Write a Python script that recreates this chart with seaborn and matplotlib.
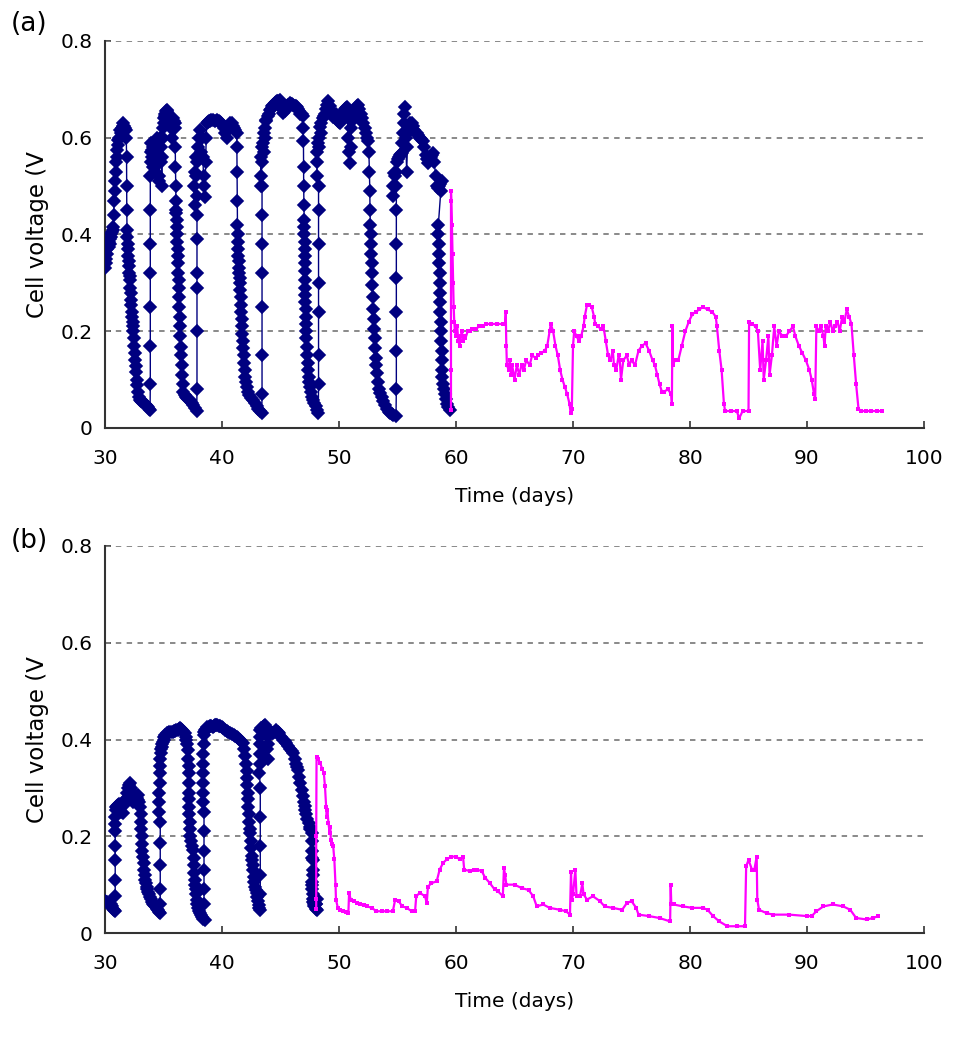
import matplotlib
matplotlib.use("Agg")
import matplotlib.pyplot as plt
import seaborn as sns
import pandas as pd

# ---------------- data ----------------
x_ticks = [30, 40, 50, 60, 70, 80, 90, 100]
y_ticks = [0, 0.2, 0.4, 0.6, 0.8]
y_tick_labels = ["0", "0.2", "0.4", "0.6", "0.8"]
panel_labels = ["(a)", "(b)"]
x_label = "Time (days)"
y_label = "Cell voltage (V"

# ---- panel (a), navy series: (day, voltage) ----
A_CYCLE1 = [(30.0, 0.33), (30.03, 0.37), (30.06, 0.35), (30.1, 0.34), (30.15, 0.36), (30.2, 0.37), (30.25, 0.38), (30.3, 0.375),
            (30.35, 0.385), (30.4, 0.39), (30.45, 0.38), (30.5, 0.395), (30.55, 0.40), (30.6, 0.405), (30.65, 0.41), (30.7, 0.416),
            (30.74, 0.44), (30.78, 0.47), (30.82, 0.49), (30.86, 0.51), (30.9, 0.53), (30.95, 0.55), (31.0, 0.575), (31.05, 0.56),
            (31.1, 0.585), (31.15, 0.595), (31.2, 0.60), (31.28, 0.616), (31.35, 0.61), (31.42, 0.62), (31.5, 0.625), (31.57, 0.63),
            (31.63, 0.625), (31.7, 0.62), (31.77, 0.615), (31.82, 0.60),
            (31.84, 0.56), (31.85, 0.50), (31.86, 0.45), (31.88, 0.41), (31.9, 0.395), (31.93, 0.38), (31.96, 0.37), (31.99, 0.355),
            (32.02, 0.345), (32.05, 0.335), (32.08, 0.32), (32.11, 0.315), (32.14, 0.306), (32.17, 0.29), (32.2, 0.28), (32.23, 0.265),
            (32.26, 0.255), (32.29, 0.24), (32.32, 0.23), (32.35, 0.22), (32.38, 0.21), (32.42, 0.20), (32.46, 0.185), (32.5, 0.17),
            (32.54, 0.155), (32.58, 0.14), (32.62, 0.128), (32.66, 0.115), (32.71, 0.10), (32.76, 0.088), (32.82, 0.075), (32.9, 0.065),
            (33.0, 0.058), (33.1, 0.055), (33.2, 0.053), (33.3, 0.052), (33.4, 0.05), (33.5, 0.048), (33.6, 0.046), (33.7, 0.044),
            (33.78, 0.04), (33.85, 0.037)]
A_RISE1 = [(33.87, 0.09), (33.87, 0.17), (33.87, 0.25), (33.87, 0.32), (33.87, 0.38), (33.87, 0.45), (33.87, 0.52)]
A_CYCLE2 = [(33.9, 0.57), (33.93, 0.59), (33.96, 0.55), (34.0, 0.575), (34.04, 0.56), (34.08, 0.54), (34.13, 0.58), (34.18, 0.55),
            (34.23, 0.57), (34.28, 0.53), (34.33, 0.56), (34.38, 0.58), (34.43, 0.60), (34.48, 0.57), (34.53, 0.55), (34.58, 0.52),
            (34.63, 0.51), (34.68, 0.56), (34.73, 0.60), (34.78, 0.58), (34.82, 0.55), (34.85, 0.50), (34.88, 0.56), (34.92, 0.60),
            (34.96, 0.62), (35.0, 0.63), (35.05, 0.64), (35.1, 0.645), (35.15, 0.65), (35.2, 0.655), (35.27, 0.657), (35.33, 0.655),
            (35.4, 0.65), (35.46, 0.645), (35.52, 0.64), (35.58, 0.635), (35.64, 0.62), (35.7, 0.60), (35.76, 0.625), (35.82, 0.64),
            (35.88, 0.635), (35.94, 0.63), (35.98, 0.62),
            (36.0, 0.58), (36.02, 0.54), (36.04, 0.50), (36.06, 0.47), (36.08, 0.45), (36.1, 0.444), (36.13, 0.43), (36.15, 0.415),
            (36.17, 0.40), (36.19, 0.385), (36.21, 0.37), (36.23, 0.355), (36.25, 0.34), (36.27, 0.32), (36.29, 0.305), (36.31, 0.29),
            (36.33, 0.27), (36.35, 0.25), (36.37, 0.23), (36.4, 0.21), (36.43, 0.19), (36.46, 0.168), (36.5, 0.15), (36.55, 0.13),
            (36.6, 0.11), (36.65, 0.09), (36.7, 0.075), (36.8, 0.068), (36.9, 0.064), (37.0, 0.062), (37.1, 0.06), (37.26, 0.058),
            (37.4, 0.052), (37.55, 0.047), (37.7, 0.042), (37.84, 0.035)]
A_RISE2 = [(37.86, 0.08), (37.86, 0.20), (37.86, 0.29), (37.86, 0.32), (37.86, 0.39), (37.86, 0.44), (37.86, 0.48)]
A_CYCLE3 = [(37.6, 0.50), (37.65, 0.46), (37.7, 0.53), (37.75, 0.56), (37.8, 0.52), (37.9, 0.55), (37.95, 0.58), (38.0, 0.56),
            (38.05, 0.60), (38.12, 0.615), (38.18, 0.60), (38.24, 0.57), (38.3, 0.60), (38.36, 0.56), (38.42, 0.52), (38.48, 0.50),
            (38.55, 0.478), (38.6, 0.55), (38.65, 0.60), (38.69, 0.63), (38.8, 0.632), (38.9, 0.635), (39.0, 0.634), (39.1, 0.636),
            (39.26, 0.637), (39.4, 0.635), (39.55, 0.636), (39.7, 0.634), (39.83, 0.632), (39.95, 0.63), (40.05, 0.625), (40.15, 0.62),
            (40.25, 0.61), (40.4, 0.60), (40.5, 0.615), (40.6, 0.625), (40.7, 0.63), (40.83, 0.63), (40.95, 0.625), (41.05, 0.62),
            (41.15, 0.615), (41.26, 0.61),
            (41.27, 0.58), (41.28, 0.53), (41.3, 0.47), (41.32, 0.42), (41.34, 0.40), (41.36, 0.385), (41.38, 0.37), (41.4, 0.355),
            (41.42, 0.345), (41.45, 0.33), (41.48, 0.32), (41.51, 0.31), (41.54, 0.30), (41.57, 0.285), (41.6, 0.27), (41.63, 0.255),
            (41.66, 0.24), (41.69, 0.225), (41.72, 0.21), (41.75, 0.195), (41.78, 0.18), (41.83, 0.165), (41.87, 0.15), (41.91, 0.135),
            (41.95, 0.12), (42.0, 0.105), (42.05, 0.095), (42.1, 0.085), (42.2, 0.075), (42.3, 0.068), (42.45, 0.062), (42.66, 0.058),
            (42.8, 0.052), (42.95, 0.046), (43.1, 0.04), (43.25, 0.035), (43.4, 0.03)]
A_RISE3 = [(43.42, 0.07), (43.42, 0.15), (43.42, 0.25), (43.42, 0.32), (43.42, 0.38), (43.42, 0.44), (43.42, 0.50)]
A_CYCLE4 = [(43.3, 0.52), (43.33, 0.56), (43.36, 0.50), (43.4, 0.55), (43.45, 0.58), (43.5, 0.59), (43.55, 0.57), (43.6, 0.61),
            (43.65, 0.60), (43.7, 0.62), (43.75, 0.635), (43.8, 0.637), (43.9, 0.645), (44.0, 0.65), (44.1, 0.657), (44.2, 0.66),
            (44.3, 0.665), (44.4, 0.668), (44.5, 0.671), (44.6, 0.673), (44.7, 0.675), (44.8, 0.676), (44.96, 0.678), (45.05, 0.67),
            (45.15, 0.66), (45.25, 0.651), (45.35, 0.655), (45.45, 0.66), (45.55, 0.665), (45.65, 0.668), (45.8, 0.671), (45.9, 0.67),
            (46.0, 0.669), (46.1, 0.668), (46.2, 0.666), (46.3, 0.665), (46.38, 0.664), (46.5, 0.66), (46.6, 0.655), (46.7, 0.65),
            (46.8, 0.648), (46.9, 0.645), (46.95, 0.62), (46.96, 0.594), (46.97, 0.54), (46.98, 0.50), (47.0, 0.46), (47.02, 0.43),
            (47.03, 0.415), (47.04, 0.40), (47.05, 0.385), (47.06, 0.37), (47.07, 0.355), (47.08, 0.34), (47.09, 0.325), (47.1, 0.306),
            (47.11, 0.29), (47.12, 0.275), (47.13, 0.26), (47.14, 0.245), (47.16, 0.23), (47.18, 0.215), (47.2, 0.20), (47.22, 0.185),
            (47.24, 0.168), (47.27, 0.15), (47.31, 0.135), (47.36, 0.12), (47.41, 0.105), (47.46, 0.095), (47.52, 0.085), (47.6, 0.075),
            (47.7, 0.065), (47.8, 0.058), (47.9, 0.052), (48.0, 0.045), (48.1, 0.038), (48.23, 0.03)]
A_RISE4 = [(48.25, 0.09), (48.25, 0.15), (48.25, 0.24), (48.25, 0.30), (48.25, 0.38), (48.25, 0.45), (48.25, 0.50)]
A_CYCLE5 = [(48.1, 0.52), (48.13, 0.55), (48.16, 0.57), (48.2, 0.59), (48.25, 0.58), (48.3, 0.60), (48.38, 0.623), (48.45, 0.61),
            (48.5, 0.63), (48.6, 0.64), (48.7, 0.645), (48.8, 0.65), (48.9, 0.66), (49.0, 0.668), (49.1, 0.675), (49.2, 0.665),
            (49.3, 0.655), (49.4, 0.648), (49.5, 0.643), (49.6, 0.645), (49.7, 0.65), (49.8, 0.64), (49.9, 0.635), (50.0, 0.632),
            (50.1, 0.63), (50.2, 0.64), (50.3, 0.65), (50.4, 0.655), (50.5, 0.66), (50.6, 0.662), (50.66, 0.664), (50.75, 0.64),
            (50.8, 0.60), (50.85, 0.57), (50.94, 0.547), (51.0, 0.58), (51.05, 0.62), (51.1, 0.635), (51.2, 0.643), (51.3, 0.655),
            (51.4, 0.66), (51.5, 0.665), (51.65, 0.667), (51.75, 0.66), (51.85, 0.65), (51.95, 0.64), (52.07, 0.63), (52.2, 0.62),
            (52.3, 0.61), (52.4, 0.60), (52.5, 0.594),
            (52.55, 0.57), (52.6, 0.53), (52.63, 0.49), (52.65, 0.45), (52.68, 0.42), (52.71, 0.40), (52.74, 0.38), (52.77, 0.36),
            (52.8, 0.34), (52.83, 0.32), (52.86, 0.295), (52.89, 0.27), (52.93, 0.245), (52.96, 0.225), (53.0, 0.205), (53.04, 0.185),
            (53.08, 0.165), (53.12, 0.145), (53.17, 0.13), (53.22, 0.113), (53.3, 0.095), (53.4, 0.08), (53.5, 0.072), (53.65, 0.065),
            (53.8, 0.055), (53.95, 0.047), (54.1, 0.04), (54.25, 0.034), (54.36, 0.03), (54.5, 0.028), (54.65, 0.026), (54.87, 0.024)]
A_RISE5 = [(54.9, 0.08), (54.9, 0.16), (54.9, 0.24), (54.9, 0.31), (54.9, 0.38), (54.9, 0.45), (54.9, 0.50)]
A_CYCLE6 = [(54.6, 0.48), (54.65, 0.50), (54.7, 0.527), (54.78, 0.52), (54.85, 0.53), (54.93, 0.55), (55.0, 0.555), (55.1, 0.56),
            (55.2, 0.565), (55.3, 0.567), (55.36, 0.568), (55.42, 0.59), (55.48, 0.61), (55.52, 0.63), (55.58, 0.65), (55.64, 0.664),
            (55.7, 0.60), (55.78, 0.53), (55.85, 0.58), (55.92, 0.61), (56.0, 0.625), (56.1, 0.63), (56.2, 0.63), (56.3, 0.625),
            (56.4, 0.615), (56.5, 0.612), (56.63, 0.61), (56.75, 0.605), (56.9, 0.60), (57.05, 0.597), (57.2, 0.594), (57.3, 0.58),
            (57.4, 0.565), (57.5, 0.555), (57.63, 0.547), (57.75, 0.555), (57.85, 0.56), (57.95, 0.565), (58.06, 0.568), (58.15, 0.55),
            (58.25, 0.52), (58.35, 0.50), (58.45, 0.495), (58.55, 0.50), (58.65, 0.505), (58.78, 0.51), (58.7, 0.49),
            (58.49, 0.42), (58.5, 0.40), (58.52, 0.38), (58.55, 0.36), (58.58, 0.34), (58.6, 0.32), (58.62, 0.30), (58.63, 0.28),
            (58.65, 0.26), (58.67, 0.24), (58.7, 0.22), (58.72, 0.20), (58.74, 0.18), (58.76, 0.16), (58.78, 0.14), (58.8, 0.12),
            (58.84, 0.105), (58.9, 0.09), (58.98, 0.08), (59.06, 0.07), (59.15, 0.06), (59.25, 0.05), (59.35, 0.044), (59.49, 0.037)]

# ---- panel (a), magenta series ----
A_MAGENTA = [(59.57, 0.037), (59.57, 0.12), (59.57, 0.49), (59.6, 0.47), (59.65, 0.42), (59.7, 0.36), (59.75, 0.30), (59.8, 0.25),
             (59.85, 0.22), (59.9, 0.20), (60.0, 0.19), (60.1, 0.21), (60.2, 0.18), (60.3, 0.17), (60.4, 0.19), (60.5, 0.20),
             (60.6, 0.18), (60.7, 0.19), (60.8, 0.185), (61.0, 0.20), (61.2, 0.20), (61.4, 0.205), (61.7, 0.205), (62.0, 0.21),
             (62.3, 0.21), (62.6, 0.215), (63.0, 0.215), (63.5, 0.215), (64.0, 0.215), (64.2, 0.215), (64.25, 0.24), (64.3, 0.17),
             (64.35, 0.13), (64.5, 0.12), (64.6, 0.14), (64.7, 0.11), (64.8, 0.13), (65.0, 0.10), (65.2, 0.13), (65.4, 0.11),
             (65.6, 0.13), (65.8, 0.12), (66.0, 0.14), (66.3, 0.13), (66.5, 0.15), (66.8, 0.145), (67.0, 0.15), (67.3, 0.155),
             (67.6, 0.16), (67.8, 0.17), (68.0, 0.20), (68.1, 0.215), (68.3, 0.20), (68.5, 0.17), (68.7, 0.15), (68.9, 0.12),
             (69.1, 0.10), (69.3, 0.085), (69.5, 0.07), (69.7, 0.05), (69.8, 0.03), (69.9, 0.04), (70.0, 0.17), (70.1, 0.20),
             (70.3, 0.19), (70.5, 0.18), (70.7, 0.19), (70.9, 0.21), (71.0, 0.23), (71.2, 0.255), (71.4, 0.255), (71.6, 0.25),
             (71.8, 0.23), (71.9, 0.215), (72.1, 0.21), (72.4, 0.205), (72.6, 0.21), (72.8, 0.18), (73.0, 0.15), (73.2, 0.14),
             (73.4, 0.16), (73.5, 0.13), (73.7, 0.12), (73.9, 0.15), (74.0, 0.14), (74.1, 0.10), (74.3, 0.14), (74.6, 0.15),
             (74.8, 0.13), (75.0, 0.14), (75.3, 0.13), (75.6, 0.16), (75.9, 0.17), (76.2, 0.175), (76.5, 0.16), (76.8, 0.14),
             (77.0, 0.13), (77.2, 0.11), (77.4, 0.09), (77.6, 0.075), (77.8, 0.075), (78.1, 0.08), (78.4, 0.07), (78.45, 0.05),
             (78.5, 0.21), (78.55, 0.13), (78.7, 0.14), (79.0, 0.14), (79.3, 0.17), (79.6, 0.20), (79.9, 0.22), (80.2, 0.235),
             (80.5, 0.24), (80.8, 0.245), (81.1, 0.25), (81.5, 0.245), (81.9, 0.24), (82.2, 0.23), (82.3, 0.21), (82.5, 0.16),
             (82.7, 0.12), (82.9, 0.05), (83.0, 0.035), (83.5, 0.035), (84.0, 0.035), (84.2, 0.02), (84.5, 0.035), (85.0, 0.035),
             (85.05, 0.22), (85.3, 0.215), (85.6, 0.21), (85.8, 0.20), (86.0, 0.12), (86.2, 0.18), (86.3, 0.10), (86.5, 0.14),
             (86.7, 0.19), (86.8, 0.11), (87.0, 0.15), (87.2, 0.21), (87.4, 0.17), (87.6, 0.20), (87.9, 0.19), (88.2, 0.19),
             (88.5, 0.20), (88.8, 0.21), (89.0, 0.19), (89.3, 0.17), (89.6, 0.155), (89.9, 0.14), (90.2, 0.12), (90.4, 0.10),
             (90.6, 0.07), (90.7, 0.06), (90.8, 0.21), (91.0, 0.20), (91.2, 0.21), (91.4, 0.19), (91.5, 0.17), (91.6, 0.21),
             (91.8, 0.20), (92.0, 0.22), (92.2, 0.20), (92.4, 0.21), (92.6, 0.22), (92.8, 0.20), (93.0, 0.23), (93.2, 0.22),
             (93.4, 0.245), (93.6, 0.23), (93.8, 0.215), (94.0, 0.15), (94.2, 0.09), (94.4, 0.04), (94.6, 0.035), (95.0, 0.035),
             (95.5, 0.035), (96.0, 0.035), (96.4, 0.035)]

# ---- panel (b), navy series ----
B_CYCLE1 = [(30.0, 0.066), (30.1, 0.065), (30.2, 0.064), (30.3, 0.062), (30.4, 0.061), (30.5, 0.06), (30.6, 0.056), (30.7, 0.05),
            (30.78, 0.047), (30.85, 0.045)]
B_RISE1 = [(30.87, 0.076), (30.87, 0.11), (30.87, 0.15), (30.87, 0.18), (30.87, 0.21)]
B_CYCLE1B = [(30.88, 0.225), (30.89, 0.24), (30.9, 0.255), (30.95, 0.26), (31.0, 0.262), (31.1, 0.265), (31.2, 0.267), (31.3, 0.26),
             (31.4, 0.25), (31.5, 0.248), (31.6, 0.265), (31.7, 0.275), (31.78, 0.27), (31.85, 0.28), (31.92, 0.29), (32.0, 0.30),
             (32.07, 0.305), (32.14, 0.31), (32.22, 0.30), (32.3, 0.29), (32.4, 0.27), (32.5, 0.28), (32.6, 0.285), (32.7, 0.28),
             (32.78, 0.285), (32.85, 0.275), (32.92, 0.27), (33.0, 0.26), (33.04, 0.245), (33.07, 0.23), (33.1, 0.215), (33.13, 0.20),
             (33.16, 0.185), (33.2, 0.17), (33.25, 0.158), (33.3, 0.145), (33.35, 0.13), (33.4, 0.12), (33.45, 0.11), (33.5, 0.103),
             (33.56, 0.096), (33.63, 0.09), (33.7, 0.085), (33.77, 0.08), (33.85, 0.075), (33.92, 0.07), (34.0, 0.065), (34.1, 0.061),
             (34.2, 0.058), (34.3, 0.055), (34.4, 0.05), (34.5, 0.048), (34.6, 0.044), (34.7, 0.041)]
B_RISE2 = [(34.72, 0.06), (34.72, 0.09), (34.72, 0.14), (34.72, 0.186), (34.72, 0.23)]
B_CYCLE2 = [(34.6, 0.25), (34.62, 0.27), (34.64, 0.29), (34.66, 0.31), (34.68, 0.33), (34.7, 0.345), (34.72, 0.36), (34.75, 0.372),
            (34.8, 0.38), (34.85, 0.385), (34.9, 0.39), (34.95, 0.395), (35.0, 0.40), (35.07, 0.405), (35.15, 0.41), (35.27, 0.413),
            (35.4, 0.414), (35.5, 0.415), (35.65, 0.415), (35.8, 0.416), (35.9, 0.417), (36.0, 0.418), (36.1, 0.419), (36.2, 0.42),
            (36.3, 0.422), (36.4, 0.423), (36.5, 0.422), (36.6, 0.42), (36.7, 0.417), (36.8, 0.413), (36.88, 0.405), (36.95, 0.40),
            (37.02, 0.39), (37.1, 0.379), (37.12, 0.36), (37.14, 0.345), (37.16, 0.33), (37.17, 0.31), (37.18, 0.29), (37.19, 0.276),
            (37.2, 0.26), (37.22, 0.245), (37.24, 0.23), (37.26, 0.215), (37.3, 0.20), (37.35, 0.19), (37.45, 0.18), (37.55, 0.172),
            (37.58, 0.155), (37.61, 0.14), (37.64, 0.125), (37.67, 0.11), (37.7, 0.10), (37.74, 0.09), (37.79, 0.08), (37.84, 0.068),
            (37.9, 0.06), (37.97, 0.052), (38.05, 0.045), (38.1, 0.041), (38.2, 0.037), (38.3, 0.033), (38.4, 0.03), (38.55, 0.027)]
B_RISE3 = [(38.46, 0.06), (38.46, 0.09), (38.46, 0.13), (38.46, 0.17), (38.46, 0.21), (38.46, 0.25)]
B_CYCLE3 = [(38.35, 0.27), (38.36, 0.29), (38.37, 0.31), (38.38, 0.33), (38.39, 0.35), (38.4, 0.37), (38.42, 0.39), (38.45, 0.41),
            (38.5, 0.415), (38.55, 0.42), (38.65, 0.422), (38.75, 0.425), (38.9, 0.426), (39.0, 0.427), (39.1, 0.427), (39.2, 0.426),
            (39.3, 0.428), (39.4, 0.43), (39.5, 0.43), (39.6, 0.43), (39.72, 0.428), (39.85, 0.427), (39.97, 0.425), (40.1, 0.423),
            (40.25, 0.42), (40.4, 0.418), (40.55, 0.415), (40.7, 0.413), (40.85, 0.411), (41.0, 0.41), (41.13, 0.408), (41.26, 0.406),
            (41.38, 0.403), (41.5, 0.40), (41.65, 0.396), (41.8, 0.393), (41.9, 0.38), (42.0, 0.365), (42.05, 0.35), (42.1, 0.335),
            (42.13, 0.32), (42.16, 0.305), (42.19, 0.29), (42.22, 0.276), (42.25, 0.26), (42.28, 0.245), (42.31, 0.23), (42.35, 0.215),
            (42.4, 0.207), (42.44, 0.19), (42.48, 0.175), (42.53, 0.16), (42.58, 0.15), (42.62, 0.14), (42.66, 0.13), (42.71, 0.115),
            (42.77, 0.105), (42.84, 0.095), (42.9, 0.088), (42.95, 0.083), (43.0, 0.075), (43.06, 0.066), (43.12, 0.058),
            (43.18, 0.052), (43.25, 0.048)]
B_RISE4 = [(43.27, 0.08), (43.27, 0.12), (43.27, 0.18), (43.27, 0.24), (43.27, 0.30)]
B_CYCLE4 = [(43.2, 0.33), (43.21, 0.35), (43.22, 0.37), (43.23, 0.39), (43.24, 0.405), (43.25, 0.42), (43.35, 0.423), (43.5, 0.425),
            (43.6, 0.428), (43.7, 0.43), (43.78, 0.41), (43.85, 0.38), (43.9, 0.36), (43.95, 0.39), (44.0, 0.41), (44.1, 0.413),
            (44.2, 0.415), (44.3, 0.414), (44.4, 0.413), (44.5, 0.416), (44.6, 0.42), (44.75, 0.416), (44.9, 0.413), (45.05, 0.406),
            (45.2, 0.40), (45.35, 0.396), (45.5, 0.393), (45.65, 0.386), (45.8, 0.38), (45.95, 0.376), (46.1, 0.372), (46.2, 0.36),
            (46.3, 0.35), (46.4, 0.343), (46.5, 0.337), (46.6, 0.323), (46.7, 0.31), (46.8, 0.296), (46.9, 0.283), (47.0, 0.27),
            (47.05, 0.262), (47.1, 0.254), (47.2, 0.245), (47.3, 0.235), (47.4, 0.227), (47.48, 0.22), (47.55, 0.215), (47.66, 0.207),
            (47.68, 0.19), (47.7, 0.17), (47.72, 0.155), (47.75, 0.15), (47.8, 0.13), (47.75, 0.12), (47.72, 0.105), (47.7, 0.10),
            (47.73, 0.09), (47.75, 0.08), (47.78, 0.07), (47.8, 0.065), (47.85, 0.06), (47.9, 0.055), (48.0, 0.06), (48.05, 0.05),
            (48.1, 0.048), (48.1, 0.07), (48.05, 0.06)]

# ---- panel (b), magenta series ----
B_MAGENTA = [(48.05, 0.05), (48.05, 0.07), (48.05, 0.2), (48.08, 0.364), (48.2, 0.36), (48.4, 0.351), (48.55, 0.34), (48.7, 0.331),
             (48.8, 0.303), (48.9, 0.26), (48.95, 0.24), (49.0, 0.255), (49.1, 0.227), (49.2, 0.207), (49.25, 0.22), (49.3, 0.193),
             (49.4, 0.185), (49.5, 0.18), (49.6, 0.152), (49.7, 0.10), (49.74, 0.069), (49.9, 0.052), (50.1, 0.048), (50.35, 0.045),
             (50.6, 0.043), (50.8, 0.041), (50.86, 0.083), (51.0, 0.069), (51.3, 0.066), (51.5, 0.062), (51.8, 0.059), (52.1, 0.057),
             (52.4, 0.055), (52.8, 0.052), (53.2, 0.045), (53.7, 0.045), (54.1, 0.045), (54.6, 0.045), (54.8, 0.069), (55.1, 0.066),
             (55.4, 0.055), (55.8, 0.052), (56.2, 0.045), (56.5, 0.045), (56.6, 0.076), (56.9, 0.083), (57.35, 0.076), (57.5, 0.062),
             (57.6, 0.096), (57.9, 0.103), (58.35, 0.107), (58.6, 0.131), (58.9, 0.145), (59.2, 0.152), (59.6, 0.158), (60.03, 0.158),
             (60.3, 0.152), (60.6, 0.158), (60.7, 0.131), (61.2, 0.128), (61.5, 0.131), (61.8, 0.131), (62.2, 0.128), (62.5, 0.114),
             (62.9, 0.103), (63.3, 0.09), (63.6, 0.086), (64.0, 0.076), (64.1, 0.134), (64.2, 0.12), (64.3, 0.10), (65.0, 0.10),
             (65.6, 0.093), (66.2, 0.089), (66.6, 0.076), (66.9, 0.055), (67.45, 0.059), (68.0, 0.052), (68.9, 0.048), (69.4, 0.045),
             (69.74, 0.038), (69.83, 0.127), (69.9, 0.069), (70.0, 0.08), (70.2, 0.131), (70.3, 0.076), (70.6, 0.076), (70.8, 0.103),
             (70.9, 0.08), (71.2, 0.069), (71.7, 0.076), (72.3, 0.066), (72.7, 0.055), (73.4, 0.052), (74.2, 0.048), (74.6, 0.062),
             (75.0, 0.066), (75.4, 0.052), (75.6, 0.038), (76.5, 0.035), (77.4, 0.031), (78.3, 0.024), (78.35, 0.10), (78.4, 0.06),
             (78.6, 0.059), (79.4, 0.055), (80.2, 0.052), (81.1, 0.052), (81.5, 0.048), (81.97, 0.035), (82.5, 0.024), (83.2, 0.014),
             (84.0, 0.014), (84.7, 0.014), (84.8, 0.138), (85.0, 0.151), (85.3, 0.131), (85.5, 0.131), (85.7, 0.158), (85.75, 0.069),
             (85.9, 0.048), (86.55, 0.041), (87.1, 0.038), (88.5, 0.038), (90.0, 0.035), (90.4, 0.035), (90.8, 0.045), (91.4, 0.055),
             (92.2, 0.059), (93.1, 0.055), (93.7, 0.048), (94.2, 0.031), (95.1, 0.028), (95.65, 0.031), (96.1, 0.035)]

A_NAVY_SEGMENTS = [A_CYCLE1, A_RISE1, A_CYCLE2, A_RISE2, A_CYCLE3, A_RISE3, A_CYCLE4, A_RISE4, A_CYCLE5, A_RISE5, A_CYCLE6]
B_NAVY_SEGMENTS = [B_CYCLE1, B_RISE1, B_CYCLE1B, B_RISE2, B_CYCLE2, B_RISE3, B_CYCLE3, B_RISE4, B_CYCLE4]

NAVY = "#000080"
MAGENTA = "#FF00FF"


def to_frame(segments):
    rows = [pt for seg in segments for pt in seg]
    return pd.DataFrame(rows, columns=["day", "v"])


# ---------------- plot ----------------
sns.set_style("white")
plt.rcParams["font.family"] = ["DejaVu Sans"]
plt.rcParams["text.color"] = "black"
plt.rcParams["axes.labelcolor"] = "black"
plt.rcParams["xtick.color"] = "black"
plt.rcParams["ytick.color"] = "black"

fig = plt.figure(figsize=(9.6, 10.39), dpi=100)
ax_a = fig.add_axes([0.1094, 0.5881, 0.8531, 0.3725])
ax_b = fig.add_axes([0.1094, 0.1020, 0.8531, 0.3725])

panels = [
    (ax_a, to_frame(A_NAVY_SEGMENTS), to_frame([A_MAGENTA]), 1.044),
    (ax_b, to_frame(B_NAVY_SEGMENTS), to_frame([B_MAGENTA]), 1.012),
]

for i, (ax, navy_df, mag_df, label_y) in enumerate(panels):
    sns.lineplot(data=navy_df, x="day", y="v", sort=False, estimator=None, ax=ax,
                 color=NAVY, lw=1.0, marker="D", markersize=6.5, markeredgewidth=1.2,
                 markeredgecolor=NAVY, zorder=3)
    sns.lineplot(data=mag_df, x="day", y="v", sort=False, estimator=None, ax=ax,
                 color=MAGENTA, lw=1.6, marker="s", markersize=2.5, markeredgewidth=0, zorder=4)

    ax.set_xlim(30, 100)
    ax.set_ylim(0, 0.8)
    ax.set_xticks(x_ticks)
    ax.set_xticklabels([str(t) for t in x_ticks])
    ax.set_yticks(y_ticks)
    ax.set_yticklabels(y_tick_labels)
    for yv in y_ticks[1:]:
        ax.axhline(yv, color="#808080", lw=1.3, ls=(0, (3, 3)), zorder=1)
    for side in ["top", "right"]:
        ax.spines[side].set_visible(False)
    for side in ["left", "bottom"]:
        ax.spines[side].set_color("#333333")
        ax.spines[side].set_linewidth(1.5)
    ax.tick_params(axis="x", direction="in", length=5, width=1.2, color="#333333",
                   pad=15, labelsize=14.5, bottom=True, labelcolor="black")
    ax.tick_params(axis="y", direction="in", length=4, width=1.2, color="#333333",
                   pad=9, labelsize=14.5, left=True, labelcolor="black")
    ax.set_xlabel(x_label, fontsize=14.5, labelpad=14, color="black")
    ax.set_ylabel(y_label, fontsize=16.5, labelpad=8, color="black")
    ax.text(-0.115, label_y, panel_labels[i], transform=ax.transAxes, fontsize=19,
            ha="left", va="center", color="black")
    ax.set_facecolor("white")

fig.savefig("out.png", dpi=100, facecolor="white")
